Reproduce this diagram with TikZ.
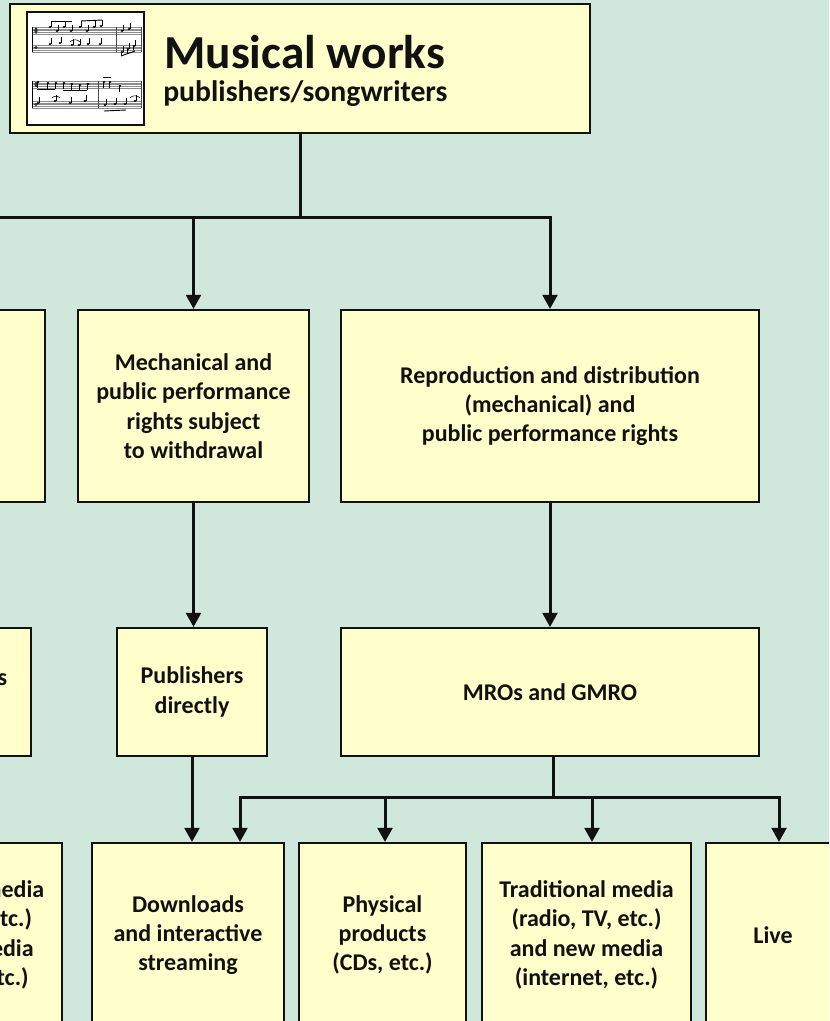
\documentclass[tikz,border=0pt]{standalone}
\usepackage{fontspec}
\setmainfont{Carlito}
\usetikzlibrary{arrows.meta}
\definecolor{bgc}{RGB}{208,231,220}
\definecolor{boxfill}{RGB}{255,255,204}
\definecolor{ink}{RGB}{17,17,17}
\tikzset{
  stdbox/.style={draw=ink, line width=1.6pt, fill=boxfill, align=center, inner sep=0pt,
    font=\fontsize{18}{22}\selectfont\bfseries, text=ink},
  conn/.style={draw=ink, line width=2.25pt},
  arr/.style={conn, -{Triangle[width=11pt,length=10.5pt]}},
  staffline/.style={draw=black!45, line width=0.35pt},
  notehead/.style={fill=black},
  stemline/.style={draw=black, line width=0.35pt},
}
\begin{document}
\begin{tikzpicture}[x=0.75pt,y=-0.75pt]
\useasboundingbox (0,0) rectangle (829,1021);
\clip (0,0) rectangle (829,1021);
\fill[bgc] (0,0) rectangle (829,1021);

% ---------- top box ----------
\node[stdbox, line width=2pt, minimum width=435pt, minimum height=96.75pt] (top) at (300,68.5) {};
\node[anchor=base west, inner sep=0pt, text=ink, font=\fontsize{35.5}{40}\selectfont\bfseries] (title) at (164,68) {Musical works};
\node[anchor=base west, inner sep=0pt, text=ink, font=\fontsize{22.3}{26}\selectfont\bfseries] (sub) at (163,101) {publishers/songwriters};

% ---------- sheet music picture ----------
\node[draw=ink, line width=1.5pt, fill=white, minimum width=87.75pt, minimum height=84.75pt, inner sep=0pt] (score) at (85.5,68.5) {};
\foreach \y in {27,45,81,101}{
  \foreach \k in {0,...,4}{
    \draw[staffline] (32,{\y+\k*1.8}) -- (141,{\y+\k*1.8});
  }
}
\draw[black, line width=0.4pt] (32,27) -- (32,52.2);
\draw[black, line width=0.4pt] (32,81) -- (32,108.2);
\draw[black!70, line width=0.35pt] (116,27) -- (116,52.2);
\draw[black!70, line width=0.35pt] (98,81) -- (98,108.2);
\draw[black!70, line width=0.35pt] (141,27) -- (141,52.2);
\draw[black!70, line width=0.35pt] (141,81) -- (141,108.2);
% clefs (simplified)
\fill[black!80] (36,30.6) ellipse (1.6 and 3.2);
\fill[black!80] (36,47.5) ellipse (1.8 and 1.6);
\fill[black!80] (36,84.6) ellipse (1.4 and 2.6);
\fill[black!80] (36,104.5) ellipse (1.6 and 1.5);
% notes: treble system 1
\foreach \x/\y in {50/27,57/31,64/27,71/31,80/27,87/31,94/27,101/26,122/31,129/29}{
  \fill[notehead] (\x,\y) ellipse (1.4 and 1.1);
  \draw[stemline] (\x+1.2,\y) -- (\x+1.2,\y-6);
}
\draw[black, line width=0.7pt] (51.2,21) -- (72.2,21);
\draw[black, line width=0.7pt] (81.2,21) -- (102.2,20);
% bass system 1
\foreach \x/\y in {50/44,60/43,72/45,79/45,88/44,100/44,122/52,128/49,134/46}{
  \fill[notehead] (\x,\y) ellipse (1.4 and 1.1);
  \draw[stemline] (\x+1.2,\y) -- (\x+1.2,\y-6);
}
\draw[black, line width=0.4pt] (70,42) to[bend left=50] (80,42);
\draw[black, line width=0.7pt] (121,56) -- (135,51);
\foreach \x/\y in {121/52,127/49,133/46}{\draw[stemline] (\x,\y) -- (\x,\y+4);}
% treble system 2
\foreach \x/\y in {38/82,48/83,56/83,64/83,72/84,80/85,88/84,104/82,110/82,120/86}{
  \fill[notehead] (\x,\y) ellipse (1.4 and 1.1);
  \draw[stemline] (\x-1.2,\y) -- (\x-1.2,\y+6);
}
\draw[black, line width=0.7pt] (36.8,89) -- (54.8,89);
\draw[black, line width=0.7pt] (62.8,90) -- (86.8,90);
\draw[black, line width=0.7pt] (102.8,77) -- (111.2,77);
% bass system 2
\foreach \x/\y in {38/103,55/101,70/103,85/101,105/105,115/104,125/104,135/101}{
  \fill[notehead] (\x,\y) ellipse (1.4 and 1.1);
  \draw[stemline] (\x+1.2,\y) -- (\x+1.2,\y-6);
}
\draw[black, line width=0.4pt] (52,98) to[bend left=50] (60,98);
\draw[black, line width=0.4pt] (130,98) to[bend left=50] (140,98);
\draw[black, line width=0.7pt] (104,111) -- (126,110);

% ---------- row 2 ----------
\node[stdbox, minimum width=138.75pt, minimum height=144pt] (L2) at (-47.5,406) {};
\node[stdbox, minimum width=173.25pt, minimum height=144pt] (mech) at (193.5,406)
  {Mechanical and\\public performance\\rights subject\\to withdrawal};
\node[stdbox, minimum width=313.5pt, minimum height=144pt] (repro) at (550,406)
  {Reproduction and distribution\\(mechanical) and\\public performance rights};

% ---------- row 3 ----------
\node[stdbox, minimum width=113.25pt, minimum height=96pt] (L3) at (-44.5,692) {};
\node[anchor=east, inner sep=0pt, text=ink, font=\fontsize{18}{22}\selectfont\bfseries] (L3t) at (7.5,680) {s};
\node[stdbox, minimum width=112.5pt, minimum height=96pt] (pub) at (192,692) {Publishers\\directly};
\node[stdbox, minimum width=313.5pt, minimum height=96pt] (mro) at (550,692) {MROs and GMRO};

% ---------- row 4 ----------
\node[stdbox, minimum width=157.5pt, minimum height=138pt] (L4) at (-43,935)
  {Traditional media\\(radio, TV, etc.)\\and new media\\(internet, etc.)};
\node[stdbox, minimum width=144pt, minimum height=138pt] (dl) at (188,935)
  {Downloads\\and interactive\\streaming};
\node[stdbox, minimum width=125.25pt, minimum height=138pt] (phys) at (382.5,935)
  {Physical\\products\\(CDs, etc.)};
\node[stdbox, minimum width=156.75pt, minimum height=138pt] (trad) at (586.5,935)
  {Traditional media\\(radio, TV, etc.)\\and new media\\(internet, etc.)};
\node[stdbox, minimum width=100.5pt, minimum height=138pt] (live) at (773,935) {Live};

% ---------- connectors ----------
\coordinate (bus1) at (300,217);
\draw[conn] (top.south) -- (bus1);
\draw[arr] (bus1) -| (L2.north);
\draw[arr] (bus1) -| (mech.north);
\draw[arr] (bus1) -| (repro.north);
\draw[arr] (mech.south) -- (mech.south |- pub.north);
\draw[arr] (repro.south) -- (repro.south |- mro.north);
\draw[arr] (pub.south) -- (pub.south |- dl.north);
\coordinate (bus2) at (553,797);
\draw[conn] (mro.south -| bus2) -- (bus2);
\draw[arr] (bus2) -| (240,0 |- dl.north);
\draw[arr] (bus2) -| (385,0 |- phys.north);
\draw[arr] (bus2) -| (592,0 |- trad.north);
\draw[arr] (bus2) -| (779,0 |- live.north);
\end{tikzpicture}
\end{document}
